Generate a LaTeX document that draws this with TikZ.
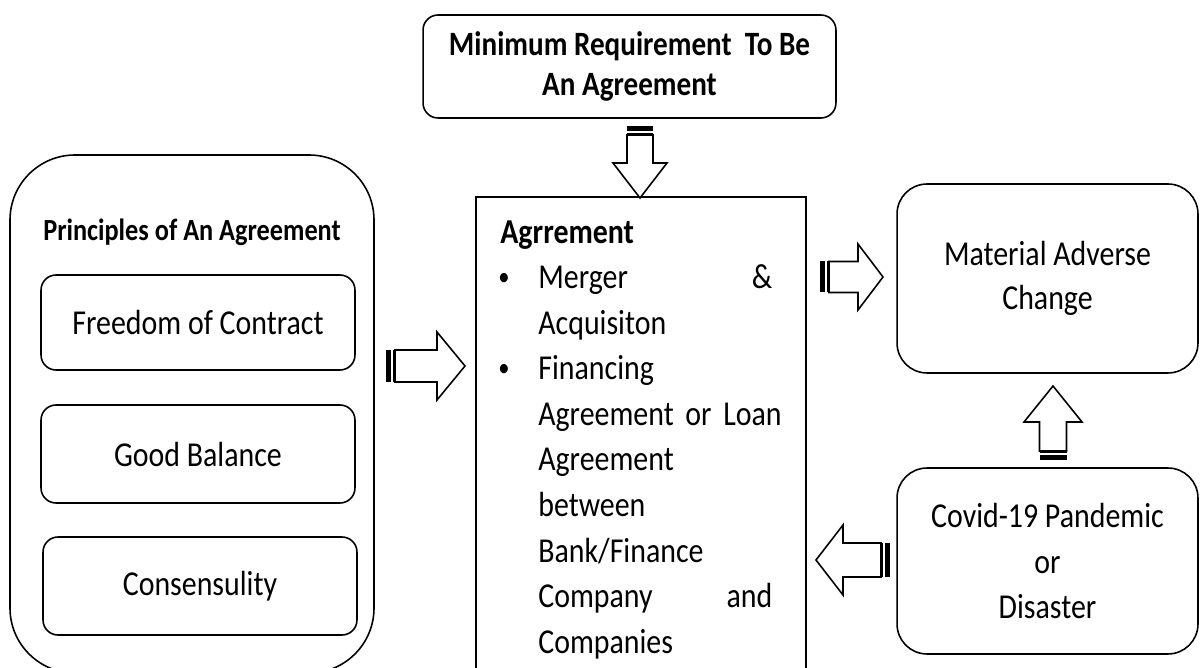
\documentclass[tikz,border=0pt]{standalone}
\usepackage{fontspec}
\setmainfont{Carlito}[FakeStretch=0.855]
\usetikzlibrary{positioning}

\tikzset{
  bodytext/.style={font=\fontsize{19.9}{25.9}\selectfont},
  boldtext/.style={font=\fontsize{19.9}{25.9}\selectfont\bfseries},
  roundbox/.style={draw, line width=0.9pt, rounded corners=0.3cm, align=center, inner sep=0pt},
  bigbox/.style={roundbox, rounded corners=0.6cm},
  listline/.style={anchor=base west, inner sep=0pt, text width=4.68cm, align=left, bodytext},
  arrowbody/.style={draw, fill=white, line width=0.9pt, line join=miter},
}

% block arrow with two stripes at its tail:
% tail point, angle, length, shaft half width, head half width, head length
\newcommand{\stripedarrow}[6]{%
  \begin{scope}[shift={#1}, rotate=#2]
    \fill (0,-#4) rectangle (5,#4);
    \fill (7,-#4) rectangle (9.5,#4);
    \draw[arrowbody] (9,-#4) -- ({#3-#6},-#4) -- ({#3-#6},-#5) -- (#3,0)
      -- ({#3-#6},#5) -- ({#3-#6},#4) -- (9,#4) -- cycle;
  \end{scope}}

\begin{document}
\begin{tikzpicture}[x=0.02cm, y=-0.02cm]
\clip (0,0) rectangle (1200,668);

% top box
\node[roundbox, minimum width=8.26cm, minimum height=2.06cm,
  font=\fontsize{19.4}{22.8}\selectfont\bfseries] (minreq) at (629.5,66.5)
  {Minimum Requirement\ \ To Be\\An Agreement};

% principles
\draw[line width=0.9pt, rounded corners=1.3cm] (10,155) rectangle (374,673);
\node[anchor=base, font=\fontsize{17.5}{20}\selectfont\bfseries] (principles) at (192,241)
  {Principles of An Agreement};
\node[roundbox, bodytext, minimum width=6.28cm, minimum height=1.9cm] (freedom) at (198,322.5) {Freedom of Contract};
\node[roundbox, bodytext, minimum width=6.28cm, minimum height=1.96cm] (balance) at (198,454) {Good Balance};
\node[roundbox, bodytext, minimum width=6.28cm, minimum height=1.96cm] (consens) at (200,586) {Consensulity};

% agreement
\draw[line width=0.9pt] (476,197) rectangle (806,690);
\node[anchor=base west, inner sep=0pt, boldtext] (agrtitle) at (500,244) {Agrrement};
\foreach \txt [count=\i from 0] in {{Merger\hfill\&}, Acquisiton, Financing,
    {\mbox{Agreement or Loan}}, Agreement, between, Bank/Finance, {Company\hfill and}, Companies}
  \node[listline] (line\i) at (538,{289+45.5*\i}) {\txt};
\node[anchor=base, inner sep=0pt, font=\fontsize{15}{16}\selectfont] (dot1) at (504,286) {\textbullet};
\node[anchor=base, inner sep=0pt, font=\fontsize{15}{16}\selectfont] (dot2) at (504,377) {\textbullet};

% right side
\node[bigbox, minimum width=6.02cm, minimum height=3.78cm,
  font=\fontsize{19.9}{25}\selectfont] (mac) at (1047.5,278.5) {Material Adverse\\Change};
\node[bigbox, bodytext, minimum width=6.02cm, minimum height=3.72cm] (covid) at (1047.5,561)
  {Covid-19 Pandemic\\or\\Disaster};

% arrows
\stripedarrow{(386,366)}{0}{79}{16}{34}{28}
\stripedarrow{(640,126)}{-90}{72}{13}{27}{35}
\stripedarrow{(820,277)}{0}{63}{15.5}{33}{25}
\stripedarrow{(1053,460)}{90}{74}{13.5}{29}{36}
\stripedarrow{(890,560)}{180}{74}{17}{35}{27}
\end{tikzpicture}
\end{document}
